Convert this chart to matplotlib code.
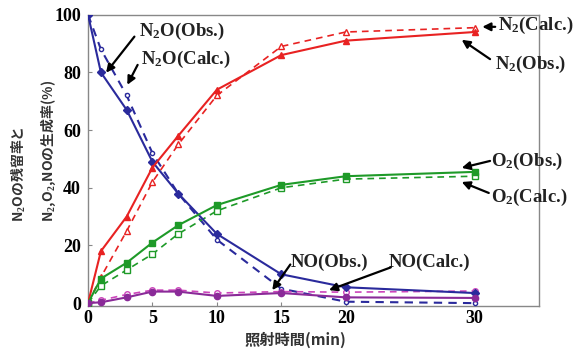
import matplotlib
matplotlib.use("Agg")
import matplotlib.pyplot as plt

# ---- data ----
t = [0, 1, 3, 5, 7, 10, 15, 20, 30]
n2o_obs = [100, 80, 67, 49, 38, 24, 10, 5.5, 3.5]
n2o_calc = [100, 88, 72, 52, 38, 22, 5, 0.5, 0]
n2_obs = [0, 18, 30, 47, 58, 74, 86, 91, 94]
n2_calc = [0, 9, 25, 42, 55, 72, 89, 94, 95.5]
o2_obs = [0, 8.5, 14, 21, 27, 34, 41, 44, 45.5]
o2_calc = [0, 6, 11.5, 17, 24, 32, 40, 43, 44]
no_obs = [0, 0.3, 2, 4, 4, 2.5, 3.5, 2, 1.8]
no_calc = [0, 1, 3, 4.5, 4.5, 3.5, 4, 3.8, 4.2]

xticks = [0, 5, 10, 15, 20, 30]
yticks = [0, 20, 40, 60, 80, 100]

labels = ["N$_2$O(Obs.)", "N$_2$O(Calc.)", "N$_2$(Calc.)", "N$_2$(Obs.)",
          "O$_2$(Obs.)", "O$_2$(Calc.)", "NO(Obs.)", "NO(Calc.)"]
ylabel1 = "N$_2$Oの残留率と"
ylabel2 = "N$_2$,O$_2$,NOの生成率(%)"
xlabel = "照射時間(min)"

plt.rcParams['mathtext.fontset'] = 'custom'
plt.rcParams['mathtext.rm'] = 'Liberation Serif:bold'
plt.rcParams['mathtext.it'] = 'Liberation Serif:bold'
plt.rcParams['mathtext.bf'] = 'Liberation Serif:bold'

fig = plt.figure(figsize=(5.76, 3.56), dpi=100)
ax = fig.add_axes([0.1528, 0.1404, 0.783, 0.8183])

c_n2o = '#2a2a9c'
c_n2 = '#e82222'
c_o2 = '#1e9a28'
c_no = '#8a2a98'

lw = 1.5
ax.plot(t, n2o_obs, '-', color=c_n2o, lw=lw, marker='D', ms=4, mfc=c_n2o, mec=c_n2o, zorder=5)
ax.plot(t, n2o_calc, '--', color=c_n2o, lw=lw, marker='o', ms=3, mfc='white', mec=c_n2o, dashes=(4, 3), zorder=4)
ax.plot(t, n2_obs, '-', color=c_n2, lw=lw, marker='^', ms=5, mfc=c_n2, mec=c_n2, zorder=5)
ax.plot(t, n2_calc, '--', color=c_n2, lw=1.2, marker='^', ms=5, mfc='white', mec=c_n2, dashes=(4, 3), zorder=4)
ax.plot(t, o2_obs, '-', color=c_o2, lw=lw, marker='s', ms=5, mfc=c_o2, mec=c_o2, zorder=5)
ax.plot(t, o2_calc, '--', color=c_o2, lw=1.2, marker='s', ms=5, mfc='white', mec=c_o2, dashes=(4, 3), zorder=4)
ax.plot(t, no_obs, '-', color=c_no, lw=lw, marker='o', ms=4.5, mfc=c_no, mec=c_no, zorder=5)
ax.plot(t, no_calc, '--', color='#cc44bb', lw=1.2, marker='o', ms=4, mfc='white', mec='#cc44bb', dashes=(4, 3), zorder=4)

ax.set_xlim(0, 35)
ax.set_ylim(-1, 100)
ax.set_xticks(xticks)
ax.set_yticks(yticks)
ax.set_xticklabels([str(v) for v in xticks], fontfamily='Liberation Serif', fontweight='bold', fontsize=13)
ax.set_yticklabels([str(v) for v in yticks], fontfamily='Liberation Serif', fontweight='bold', fontsize=13)
ax.tick_params(direction='in', length=3, width=0.8, color='#888888', pad=3)
ax.tick_params(axis='y', pad=5)
for s in ax.spines.values():
    s.set_color('#888888')
    s.set_linewidth(1.0)

# annotations: (text pos, arrow start, arrow tip) in data coords
ann = [
    ((3.98, 94.1), (3.6, 92.4), (1.4, 79.9)),
    ((4.14, 84.4), (3.85, 82.6), (3.05, 75.7)),
    ((31.8, 96.2), (31.6, 95.8), (30.6, 95.8)),
    ((31.56, 82.6), (31.2, 84.6), (29.0, 91.3)),
    ((31.3, 49.0), (31.2, 49.3), (29.0, 46.9)),
    ((31.25, 36.5), (31.1, 38.2), (29.0, 42.0)),
    ((15.7, 14.2), (15.7, 13.4), (14.3, 4.5)),
    ((23.3, 14.2), (23.5, 12.4), (18.7, 4.5)),
]
for lab, (tp, st, tip) in zip(labels, ann):
    ax.text(tp[0], tp[1], lab, ha='left', va='center', fontsize=13.5,
            fontfamily='Liberation Serif', fontweight='bold', color='#222222',
            clip_on=False, zorder=8)
    ax.annotate('', xy=tip, xytext=st,
                arrowprops=dict(arrowstyle='-|>', color='black', lw=1.6,
                                mutation_scale=12, shrinkA=0, shrinkB=0),
                annotation_clip=False, zorder=9)

cjk = ['Noto Sans CJK JP', 'DejaVu Sans']
fig.text(18/576, 0.375, ylabel1, rotation=90, ha='center', va='bottom',
         fontsize=10, family=cjk, fontweight='bold', color='#333333')
fig.text(48/576, 0.375, ylabel2, rotation=90, ha='center', va='bottom',
         fontsize=10, family=cjk, fontweight='bold', color='#333333')
fig.text(295/576, 0.045, xlabel, ha='center', va='center',
         fontsize=11, family=cjk, fontweight='bold', color='#333333')

fig.savefig('out.png', dpi=100)
